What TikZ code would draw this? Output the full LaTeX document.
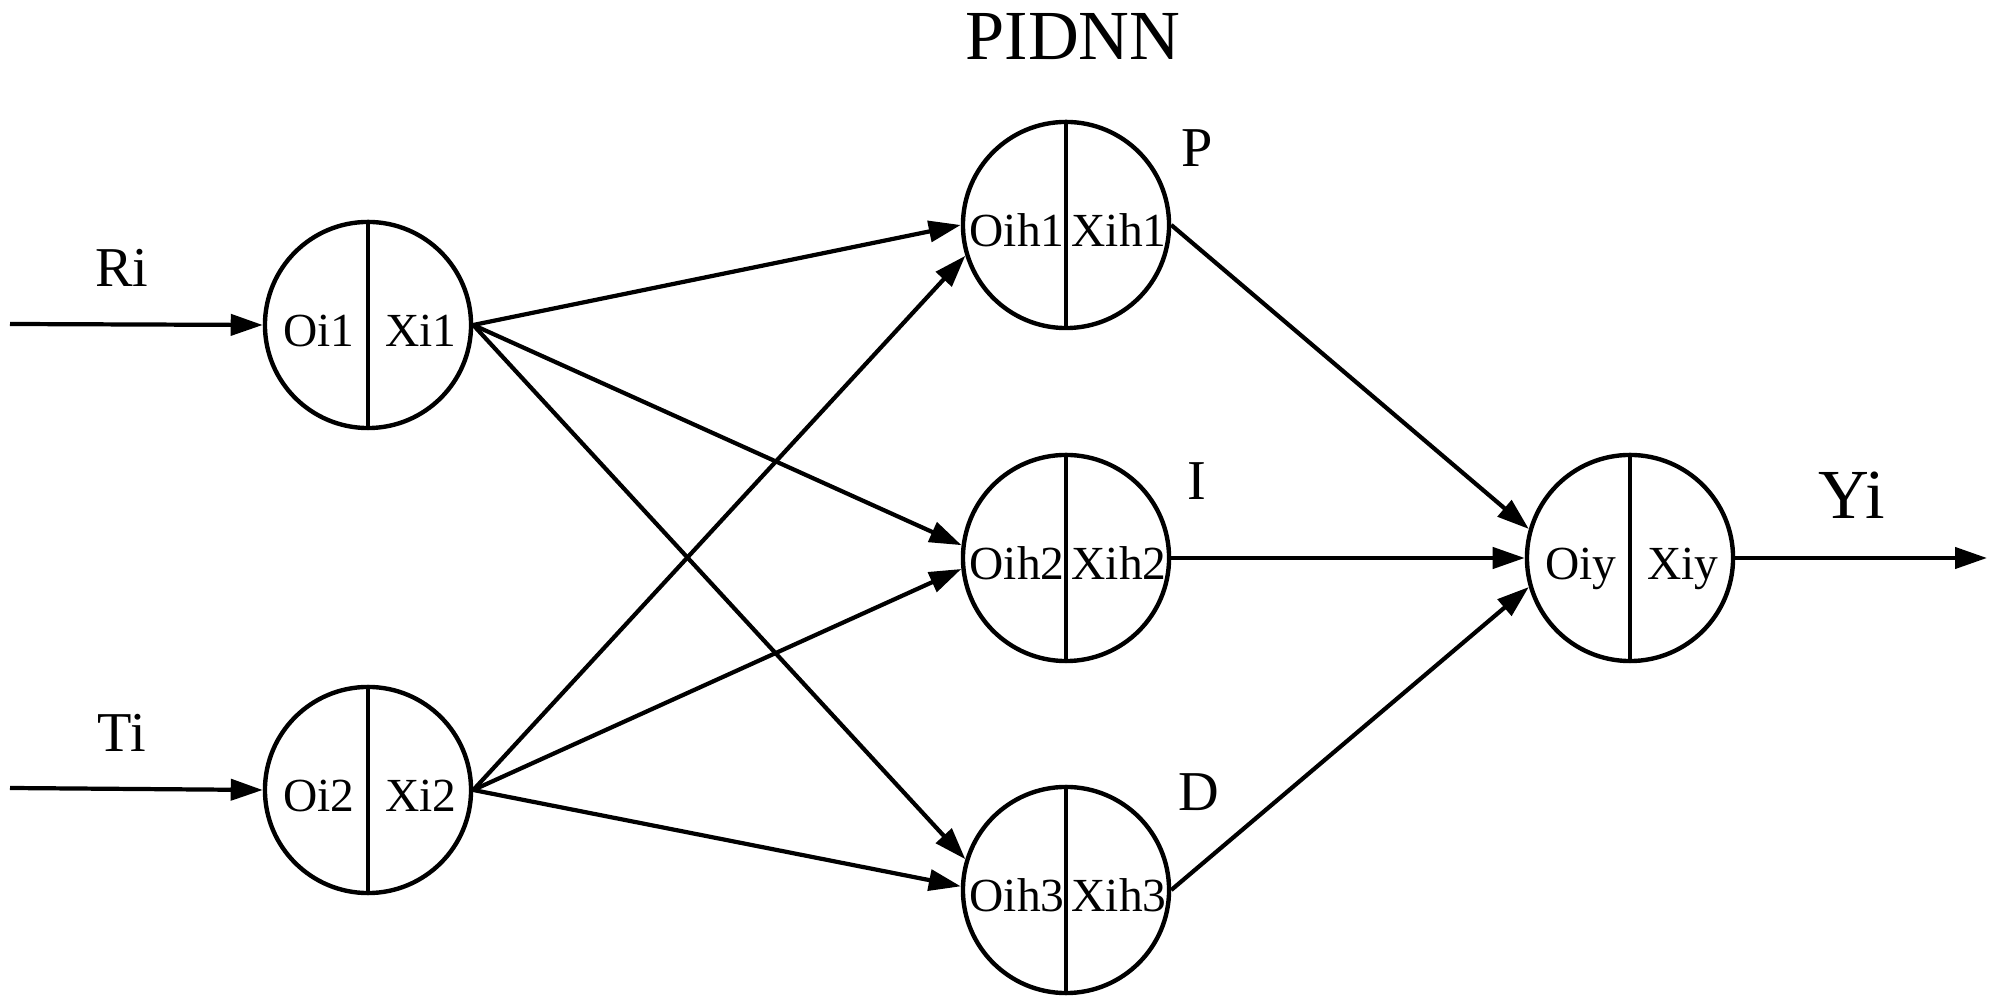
\documentclass[tikz,border=0pt]{standalone}
\usepackage{fontspec}
\setmainfont{Liberation Serif}
\usetikzlibrary{arrows.meta,calc}
\newcommand\mkneuron[5]{%
  \node[neuron] (#1) at (#2,#3) {};
  \draw[line width=1.25pt] (#1.north) -- (#1.south);
  \node[ntext] (#1l) at ($(#1.center)+(-49,22)$) {#4};
  \node[ntext] (#1r) at ($(#1.center)+(53,22)$) {#5};
}
\begin{document}
\begin{tikzpicture}[x=0.01cm,y=-0.01cm,
  neuron/.style={circle,draw,line width=1.25pt,minimum size=2.06cm,inner sep=0pt},
  conn/.style={line width=1.2pt,-{Triangle[length=3.2mm,width=2.1mm]}},
  ntext/.style={font=\fontsize{13.5}{13.5}\selectfont,inner sep=0pt,anchor=base},
  lbl/.style={font=\fontsize{16}{16}\selectfont,inner sep=0pt},
  big/.style={font=\fontsize{20}{20}\selectfont,inner sep=0pt}]
\useasboundingbox (0,0) rectangle (1997,1004);
\mkneuron{i1}{368}{325}{Oi1}{Xi1}
\mkneuron{i2}{368}{790}{Oi2}{Xi2}
\mkneuron{h1}{1066}{225}{Oih1}{Xih1}
\mkneuron{h2}{1066}{558}{Oih2}{Xih2}
\mkneuron{h3}{1066}{890}{Oih3}{Xih3}
\mkneuron{y}{1630}{558}{Oiy}{Xiy}
\coordinate (in1) at (10,324);
\coordinate (in2) at (10,788);
\coordinate (out) at (1987,558);
\draw[conn] (in1) -- (i1.west);
\draw[conn] (in2) -- (i2.west);
\draw[conn] (i1.east) -- (h1.180);
\draw[conn] (i1.east) -- (h2.173);
\draw[conn] (i1.east) -- (h3.163);
\draw[conn] (i2.east) -- (h1.197);
\draw[conn] (i2.east) -- (h2.186);
\draw[conn] (i2.east) -- (h3.178);
\draw[conn] (h1.east) -- (y.164);
\draw[conn] (h2.east) -- (y.180);
\draw[conn] (h3.east) -- (y.196);
\draw[conn] (y.east) -- (out);
\node[lbl] (ri) at (122,268) {Ri};
\node[lbl] (ti) at (122,733) {Ti};
\node[lbl] (lp) at (1197,148) {P};
\node[lbl] (li) at (1197,481) {I};
\node[lbl] (ld) at (1199,792) {D};
\node[big] (yi) at (1852,495) {Yi};
\node[big] (title) at (1073,37) {PIDNN};
\end{tikzpicture}
\end{document}
